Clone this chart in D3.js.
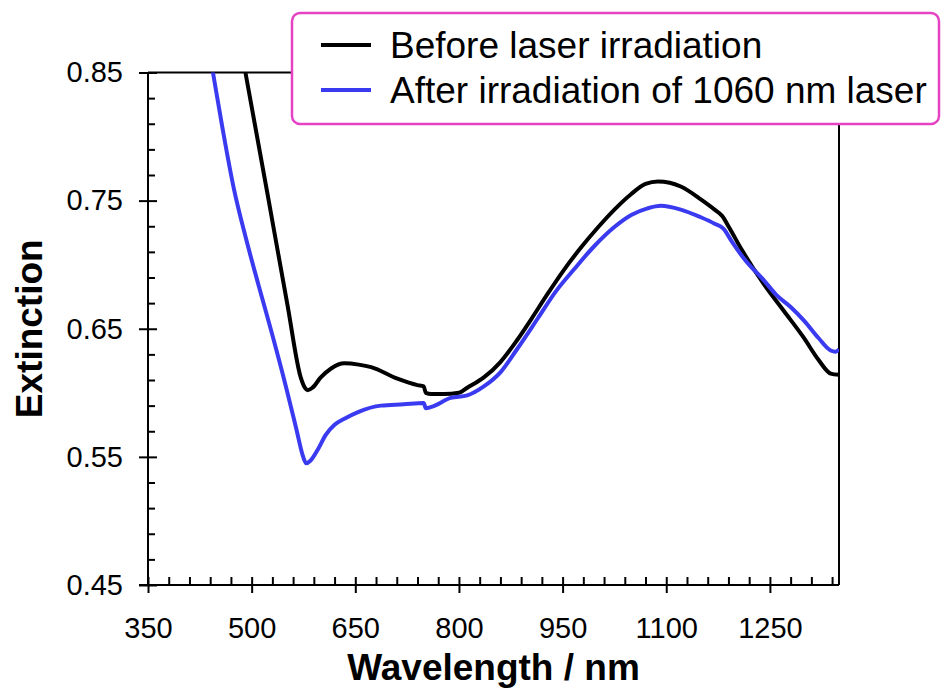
<!DOCTYPE html>
<meta charset="utf-8">
<style>
  body { margin: 0; background: #fff; }
  text { font-family: "Liberation Sans", Arial, sans-serif; fill: #000; }
</style>
<body>
<script src="https://cdnjs.cloudflare.com/ajax/libs/d3/7.8.5/d3.min.js"></script>
<script>

// spectra (wavelength in nm, extinction)
var beforeNm = [480, 491, 523, 552, 571, 577, 581, 588, 600, 615, 634, 655, 673, 711, 740, 749,
    752, 760, 778, 800, 812, 836, 860, 884, 904, 928, 952, 976, 1001, 1025, 1049, 1070, 1088,
    1105, 1121, 1150, 1170, 1181, 1190, 1210, 1241, 1270, 1299, 1320, 1338, 1350];
var beforeExt = [0.883, 0.850, 0.755, 0.668, 0.612, 0.604, 0.602, 0.604, 0.612, 0.619, 0.623,
    0.622, 0.620, 0.611, 0.606, 0.605, 0.600, 0.599, 0.599, 0.600, 0.604, 0.612, 0.624, 0.641,
    0.657, 0.677, 0.696, 0.713, 0.729, 0.743, 0.755, 0.763, 0.765, 0.764, 0.761, 0.751, 0.743,
    0.738, 0.730, 0.711, 0.685, 0.664, 0.643, 0.626, 0.615, 0.614];

var afterNm = [436, 444, 458, 474, 492, 510, 528, 550, 565, 574, 579, 585, 596, 607, 620, 635,
    654, 687, 720, 749, 752, 760, 788, 812, 836, 860, 884, 914, 940, 966, 995, 1024, 1050, 1073,
    1092, 1121, 1150, 1170, 1183, 1195, 1215, 1241, 1260, 1280, 1300, 1320, 1338, 1345, 1350];
var afterExt = [0.875, 0.850, 0.806, 0.760, 0.720, 0.684, 0.649, 0.604, 0.571, 0.551, 0.545,
    0.547, 0.556, 0.567, 0.575, 0.580, 0.585, 0.590, 0.591, 0.592, 0.588, 0.589, 0.596, 0.598,
    0.605, 0.616, 0.634, 0.658, 0.679, 0.696, 0.714, 0.729, 0.739, 0.744, 0.746, 0.743, 0.737,
    0.732, 0.728, 0.718, 0.703, 0.688, 0.676, 0.667, 0.656, 0.643, 0.633, 0.632, 0.634];

var xTicks = [350, 500, 650, 800, 950, 1100, 1250];
var yTicks = [0.45, 0.55, 0.65, 0.75, 0.85];
var seriesNames = ["Before laser irradiation", "After irradiation of 1060 nm laser"];
var seriesColors = ["#000000", "#3a3af0"];

var width = 947,
    height = 691,
    plotLeft = 148, plotRight = 839, plotTop = 72.5, plotBottom = 585;

var svg = d3.select("body").append("svg")
    .attr("width", width)
    .attr("height", height);

var x = d3.scaleLinear().domain([350, 1350]).range([plotLeft, plotRight]);
var y = d3.scaleLinear().domain([0.45, 0.85]).range([plotBottom, plotTop]);

svg.append("clipPath").attr("id", "plot")
  .append("rect")
    .attr("x", plotLeft).attr("y", plotTop)
    .attr("width", plotRight - plotLeft).attr("height", plotBottom - plotTop);

// frame: top and right
svg.append("path")
    .attr("d", "M" + plotLeft + "," + plotTop + "H" + plotRight + "V" + plotBottom)
    .attr("fill", "none")
    .attr("stroke", "#000")
    .attr("stroke-width", 2);

// minor ticks, pointing inside
var xMinor = d3.range(350, 1351, 30).filter(function(d) { return (d - 350) % 150 != 0; });
var yMinor = d3.range(0, 21).map(function(i) { return +(0.45 + i * 0.02).toFixed(2); })
    .filter(function(d) { return yTicks.indexOf(d) < 0; });

svg.append("g")
    .attr("transform", "translate(0," + plotBottom + ")")
    .call(d3.axisBottom(x).tickValues(xMinor).tickSize(-8).tickFormat(""))
    .call(function(g) { g.select(".domain").remove(); });

svg.append("g")
    .attr("transform", "translate(" + plotLeft + ",0)")
    .call(d3.axisLeft(y).tickValues(yMinor).tickSize(-7).tickFormat(""))
    .call(function(g) { g.select(".domain").remove(); });

// major axes
var xAxis = svg.append("g")
    .attr("transform", "translate(0," + plotBottom + ")")
    .call(d3.axisBottom(x).tickValues(xTicks).tickSize(8).tickSizeOuter(0).tickPadding(24)
        .tickFormat(d3.format("d")));
xAxis.selectAll(".tick line").attr("y1", -8);

var yAxis = svg.append("g")
    .attr("transform", "translate(" + plotLeft + ",0)")
    .call(d3.axisLeft(y).tickValues(yTicks).tickSize(9).tickSizeOuter(0).tickPadding(16)
        .tickFormat(d3.format(".2f")));
yAxis.selectAll(".tick line").attr("x1", 9);

svg.selectAll(".tick line").attr("stroke-width", 2);
svg.selectAll(".tick text").style("font-size", "29px").attr("fill", "#111");
svg.selectAll(".domain").attr("stroke-width", 2);
yAxis.select(".domain").attr("d", "M0," + plotTop + "V" + plotBottom);
xAxis.select(".domain").attr("d", "M" + (plotLeft - 9) + ",0H" + plotRight);

// spectra
var line = d3.line()
    .x(function(d) { return x(d[0]); })
    .y(function(d) { return y(d[1]); })
    .curve(d3.curveMonotoneX);

var series = [d3.zip(beforeNm, beforeExt), d3.zip(afterNm, afterExt)];

svg.append("g")
    .attr("clip-path", "url(#plot)")
  .selectAll("path")
    .data(series)
  .enter().append("path")
    .attr("d", line)
    .attr("fill", "none")
    .attr("stroke", function(d, i) { return seriesColors[i]; })
    .attr("stroke-width", 4)
    .attr("stroke-linejoin", "round");

// axis titles
svg.append("text")
    .attr("x", (plotLeft + plotRight) / 2)
    .attr("y", 680)
    .attr("text-anchor", "middle")
    .style("font-size", "37px")
    .style("font-weight", "bold")
    .text("Wavelength / nm");

svg.append("text")
    .attr("transform", "translate(42," + ((plotTop + plotBottom) / 2) + ") rotate(-90)")
    .attr("text-anchor", "middle")
    .style("font-size", "37px")
    .style("font-weight", "bold")
    .text("Extinction");

// legend
var legend = svg.append("g");
legend.append("rect")
    .attr("x", 292).attr("y", 13)
    .attr("width", 647).attr("height", 111)
    .attr("rx", 8)
    .attr("fill", "#fff")
    .attr("stroke", "#e543c3")
    .attr("stroke-width", 2.5);

var item = legend.selectAll(".item")
    .data(seriesNames)
  .enter().append("g")
    .attr("transform", function(d, i) { return "translate(0," + (45 + i * 45) + ")"; });

item.append("line")
    .attr("x1", 321).attr("x2", 371)
    .attr("stroke", function(d, i) { return seriesColors[i]; })
    .attr("stroke-width", 4);

item.append("text")
    .attr("x", 390)
    .attr("dy", "0.35em")
    .style("font-size", "37px")
    .text(function(d) { return d; });

</script>
